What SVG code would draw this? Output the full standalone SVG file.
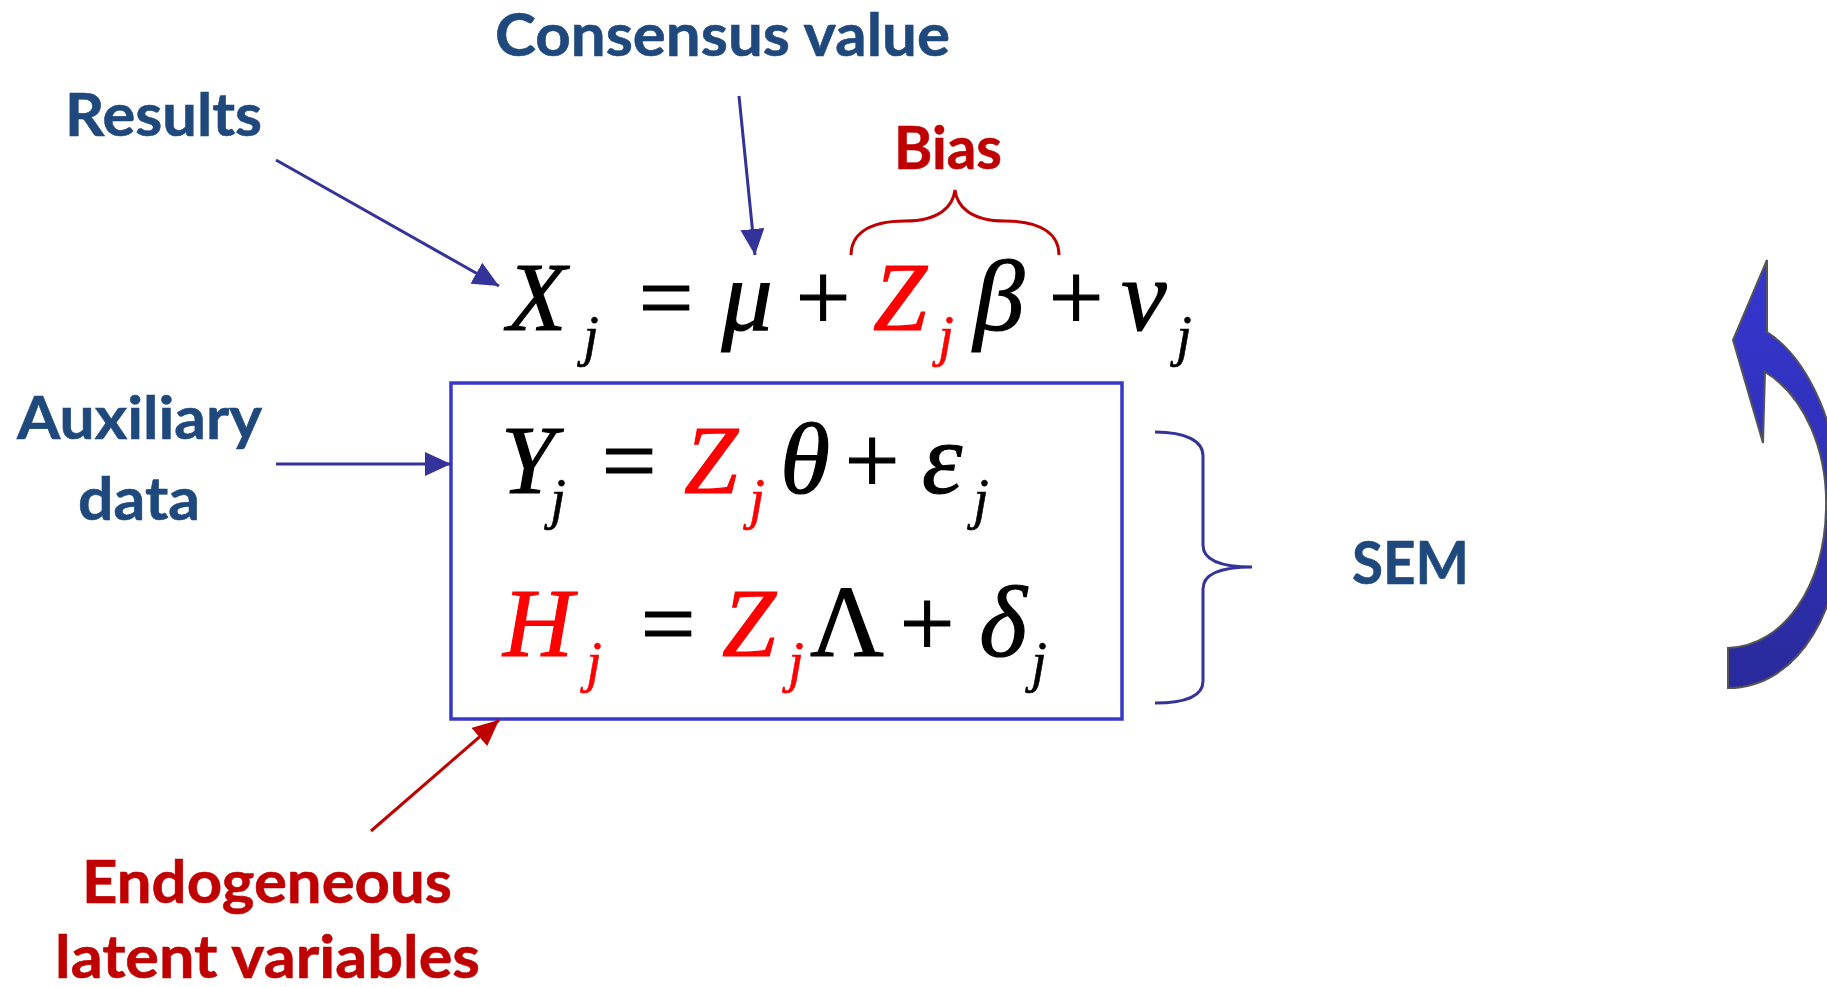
<svg xmlns="http://www.w3.org/2000/svg" width="1827" height="987" viewBox="0 0 1827 987">
<style>
.lbl{font-family:Lato,"Liberation Sans",sans-serif;font-weight:700;font-size:60px}
.blue{fill:#1F497D;stroke:#1F497D;stroke-width:0.6}
.dred{fill:#C00000;stroke:#C00000;stroke-width:0.6}
.m{font-family:"Liberation Serif","Times New Roman",serif;font-size:97px;text-anchor:middle;fill:#000;stroke:#000;stroke-width:1.2}
.i{font-style:italic}
.g{font-size:102px}
.s{font-family:"Liberation Serif","Times New Roman",serif;font-style:italic;font-size:56px;text-anchor:middle;fill:#000;stroke:#000;stroke-width:0.6}
.r{fill:#FF0000;stroke:#FF0000}
.conn{fill:none;stroke-width:3}
</style>
<defs>
<marker id="ahB" markerUnits="userSpaceOnUse" markerWidth="26" markerHeight="24" refX="26" refY="12" orient="auto"><path d="M0,0 L26,12 L0,24 z" fill="#333399"/></marker>
<marker id="ahR" markerUnits="userSpaceOnUse" markerWidth="26" markerHeight="24" refX="26" refY="12" orient="auto"><path d="M0,0 L26,12 L0,24 z" fill="#C00000"/></marker>
<linearGradient id="cg" x1="0" y1="0" x2="0" y2="1"><stop offset="0" stop-color="#3636D2"/><stop offset="1" stop-color="#2A2A9C"/></linearGradient>
</defs>

<g id="label-consensus"><text class="lbl blue" x="495" y="56" textLength="455" lengthAdjust="spacingAndGlyphs">Consensus value</text></g>
<g id="label-results"><text class="lbl blue" x="65" y="136" textLength="197" lengthAdjust="spacingAndGlyphs">Results</text></g>
<g id="label-bias"><text class="lbl dred" x="894" y="169" textLength="108" lengthAdjust="spacingAndGlyphs">Bias</text></g>
<g id="label-auxiliary"><text class="lbl blue" x="17" y="439" textLength="245" lengthAdjust="spacingAndGlyphs">Auxiliary</text><text class="lbl blue" x="78" y="520" textLength="122" lengthAdjust="spacingAndGlyphs">data</text></g>
<g id="label-sem"><text class="lbl blue" x="1352" y="584" textLength="117" lengthAdjust="spacingAndGlyphs">SEM</text></g>
<g id="label-endogeneous"><text class="lbl dred" x="82" y="903" textLength="370" lengthAdjust="spacingAndGlyphs">Endogeneous</text><text class="lbl dred" x="55" y="978" textLength="425" lengthAdjust="spacingAndGlyphs">latent variables</text></g>

<g id="equation-x">
<text class="m i" x="537" y="330">X</text><text class="s" x="591" y="355">j</text>
<text class="m" x="666" y="330">=</text>
<text class="m i g" x="747" y="330">μ</text>
<text class="m" x="823" y="330">+</text>
<text class="m i r" x="900" y="330">Z</text><text class="s r" x="946" y="355">j</text>
<text class="m i g" x="999" y="330">β</text>
<text class="m" x="1076" y="330">+</text>
<text class="m i g" x="1144" y="330">ν</text><text class="s" x="1184" y="355">j</text>
</g>

<g id="sem-box">
<rect x="451" y="383" width="671" height="336" fill="none" stroke="#3838C8" stroke-width="3.5"/>
<text class="m i" x="528" y="493">Y</text><text class="s" x="558" y="518">j</text>
<text class="m" x="629" y="493">=</text>
<text class="m i r" x="711" y="493">Z</text><text class="s r" x="757" y="518">j</text>
<text class="m i g" x="805" y="493">θ</text>
<text class="m" x="872" y="493">+</text>
<text class="m i g" x="942" y="493">ε</text><text class="s" x="981" y="518">j</text>
<text class="m i r" x="538" y="656">H</text><text class="s r" x="594" y="681">j</text>
<text class="m" x="668" y="656">=</text>
<text class="m i r" x="749" y="656">Z</text><text class="s r" x="796" y="681">j</text>
<text class="m g" x="847" y="656">Λ</text>
<text class="m" x="927" y="656">+</text>
<text class="m i g" x="1003" y="656">δ</text><text class="s" x="1039" y="681">j</text>
</g>

<g id="bias-brace"><path class="conn" stroke="#C00000" d="M851,255 C851,236 866,221 905,221 C940,221 953,206 955,190 C957,206 970,221 1005,221 C1044,221 1059,236 1059,255"/></g>
<g id="sem-brace"><path class="conn" stroke="#333399" d="M1155,432 C1186,432 1203,441 1203,456 L1203,545 C1203,560 1220,567 1252,567 C1220,567 1203,574 1203,589 L1203,681 C1203,696 1186,703 1155,703"/></g>

<g id="cycle-arrow"><path d="M1767,260 L1733,340 L1763,443 L1765,372 C1805,396 1828,452 1826,510 C1824,585 1785,646 1728,648 L1728,688 C1800,688 1845,605 1842,510 C1840,430 1810,360 1767,332 Z" fill="url(#cg)" stroke="#555555" stroke-width="2"/></g>

<g id="connectors">
<line class="conn" stroke="#333399" x1="276" y1="160" x2="499" y2="286" marker-end="url(#ahB)"/>
<line class="conn" stroke="#333399" x1="739" y1="96" x2="755" y2="255" marker-end="url(#ahB)"/>
<line class="conn" stroke="#333399" x1="276" y1="464" x2="451" y2="464" marker-end="url(#ahB)"/>
<line class="conn" stroke="#C00000" x1="371" y1="831" x2="499" y2="720" marker-end="url(#ahR)"/>
</g>
</svg>
